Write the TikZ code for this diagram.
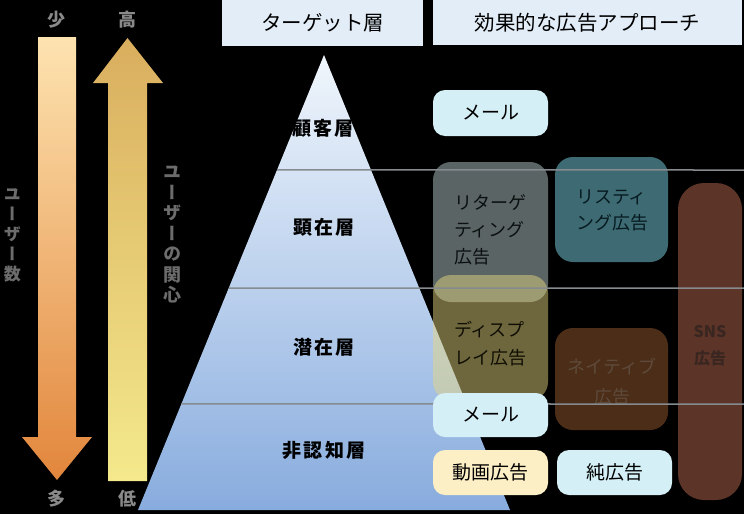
\documentclass[tikz,border=0pt]{standalone}
\usepackage{fontspec}
\usetikzlibrary{calc}
\setmainfont{Noto Sans CJK JP}
\newfontfamily\jpvert{Noto Sans CJK JP}[RawFeature=+vert]
\definecolor{hdr}{HTML}{E3EDF8}
\definecolor{mailc}{HTML}{D4EFF5}
\definecolor{creamc}{HTML}{FCEFC6}
\definecolor{retc}{HTML}{B4C8C8}
\definecolor{dispc}{HTML}{E8D880}
\definecolor{listc}{HTML}{7CD6E6}
\definecolor{natc}{HTML}{985C30}
\definecolor{snsc}{HTML}{B86850}
\definecolor{rettext}{HTML}{0C1010}
\definecolor{listtext}{HTML}{061A20}
\definecolor{disptext}{HTML}{100E04}
\definecolor{nattext}{HTML}{5E4A3A}
\definecolor{snstext}{HTML}{3A2620}
\definecolor{sidegray}{HTML}{8A8A8A}
\definecolor{vgray}{HTML}{6C6C6C}
\definecolor{divline}{HTML}{868B90}
\definecolor{arrowA}{HTML}{FDE3B0}
\definecolor{arrowB}{HTML}{F2A660}
\definecolor{arrowC}{HTML}{E2863C}
\definecolor{arrowD}{HTML}{D9AE5E}
\definecolor{arrowE}{HTML}{F4E98C}
\definecolor{pyrA}{HTML}{F0F6FC}
\definecolor{pyrB}{HTML}{C6D7ED}
\definecolor{pyrC}{HTML}{88ACDE}
\begin{document}
\begin{tikzpicture}[x=1pt,y=-1pt,
  hdrbox/.style={fill=hdr, inner sep=0pt, font=\fontsize{20.5}{24}\selectfont, text=black},
  solidbox/.style={rounded corners=12pt, minimum width=115pt, minimum height=45pt, inner sep=0pt, font=\fontsize{19}{22}\selectfont, text=black},
  glass/.style={rounded corners=18pt, inner sep=0pt, fill opacity=0.5},
  glasstext/.style={inner sep=0pt, text opacity=1, fill opacity=1, font=\fontsize{18}{27}\selectfont},
  sidelbl/.style={inner sep=0pt, text=sidegray, font=\bfseries\fontsize{18}{20}\selectfont},
  vlbl/.style={inner sep=0pt, text=vgray, align=center},
  tierlbl/.style={inner sep=0pt, text=black, font=\bfseries\fontsize{19}{22}\selectfont\addfontfeature{LetterSpace=12}}
]
% background
\fill[black] (0,0) rectangle (744,514);
\useasboundingbox (0,0) rectangle (744,514);

% left arrow (down)
\shade[top color=arrowA, middle color=arrowB, bottom color=arrowC]
  (38,37) -- (76,37) -- (76,437) -- (92,437) -- (57,480) -- (22,437) -- (38,437) -- cycle;
% right arrow (up)
\shade[top color=arrowD, bottom color=arrowE]
  (108,481) -- (147,481) -- (147,83) -- (163,83) -- (127.5,38) -- (93,83) -- (108,83) -- cycle;

\node[sidelbl] (few) at (56,20) {少};
\node[sidelbl] (high) at (127.5,20) {高};
\node[sidelbl] (many) at (56,499) {多};
\node[sidelbl] (low) at (127.5,499) {低};

\node[vlbl, font=\jpvert\bfseries\fontsize{17}{20}\selectfont] (users) at (12.5,235) {ユ\\ー\\ザ\\ー\\数};
\node[vlbl, font=\jpvert\bfseries\fontsize{18}{20.5}\selectfont] (interest) at (172,235) {ユ\\ー\\ザ\\ー\\の\\関\\心};

% pyramid
\coordinate (apex) at (324,55);
\coordinate (bl) at (138,510);
\coordinate (br) at (510,510);
\shade[top color=pyrA, middle color=pyrB, bottom color=pyrC]
  (apex) -- (br) -- (bl) -- cycle;

\node[tierlbl] (t1) at (323,128) {顧客層};
\node[tierlbl] (t2) at (324,227) {顕在層};
\node[tierlbl] (t3) at (324,347) {潜在層};
\node[tierlbl] (t4) at (324,450) {非認知層};

% headers
\node[hdrbox, minimum width=201pt, minimum height=46pt] (hTarget) at (322.5,23) {ターゲット層};
\node[hdrbox, minimum width=309pt, minimum height=45pt] (hApproach) at (587.5,22.5) {効果的な広告アプローチ};

% translucent approach boxes
\node[glass, fill=retc, minimum width=115pt, minimum height=140pt] (retBox) at (490.5,232) {};
\node[glass, fill=listc, minimum width=113pt, minimum height=105pt] (listBox) at (611.5,209.5) {};
\node[glass, fill=snsc, rounded corners=26pt, minimum width=64pt, minimum height=317pt] (snsBox) at (710,341.5) {};
\node[glass, fill=dispc, fill opacity=0.48, minimum width=115pt, minimum height=125pt] (dispBox) at (490.5,337.5) {};
\node[glass, fill=natc, minimum width=113pt, minimum height=102pt] (natBox) at (611.5,379) {};

\node[glasstext, align=left, text=rettext] (retText) at (490,230) {リターゲ\\ティング\\広告};
\node[glasstext, align=left, text=listtext, font=\fontsize{18}{26}\selectfont] (listText) at (612,210) {リスティ\\ング広告};
\node[glasstext, align=left, text=disptext, font=\fontsize{18}{28}\selectfont] (dispText) at (490,344) {ディスプ\\レイ広告};
\node[glasstext, align=center, text=nattext, font=\fontsize{18}{30}\selectfont] (natText) at (612,382) {ネイティブ\\広告};
\node[glasstext, align=center, text=snstext, font=\bfseries\fontsize{16}{27}\selectfont] (snsText) at (710,346) {SNS\\広告};

% divider lines
\coordinate (l1) at ($(apex)!0.2527!(bl)$);
\coordinate (l2) at ($(apex)!0.5121!(bl)$);
\coordinate (l3) at ($(apex)!0.7670!(bl)$);
\coordinate (r1) at (744,170);
\coordinate (r2) at (744,288);
\coordinate (r3) at (744,404);
\draw[divline, line width=1.5pt] (l1) -- (r1);
\draw[divline, line width=1.5pt] (l2) -- (r2);
\draw[divline, line width=1.5pt] (l3) -- (r3);

% opaque boxes
\node[solidbox, fill=mailc, minimum height=46pt] (mailTop) at (490.5,113) {メール};
\node[solidbox, fill=mailc, minimum height=44pt] (mailLow) at (490.5,415) {メール};
\node[solidbox, fill=creamc] (video) at (490.5,472.5) {動画広告};
\node[solidbox, fill=mailc] (pure) at (614.5,472.5) {純広告};
\end{tikzpicture}
\end{document}
